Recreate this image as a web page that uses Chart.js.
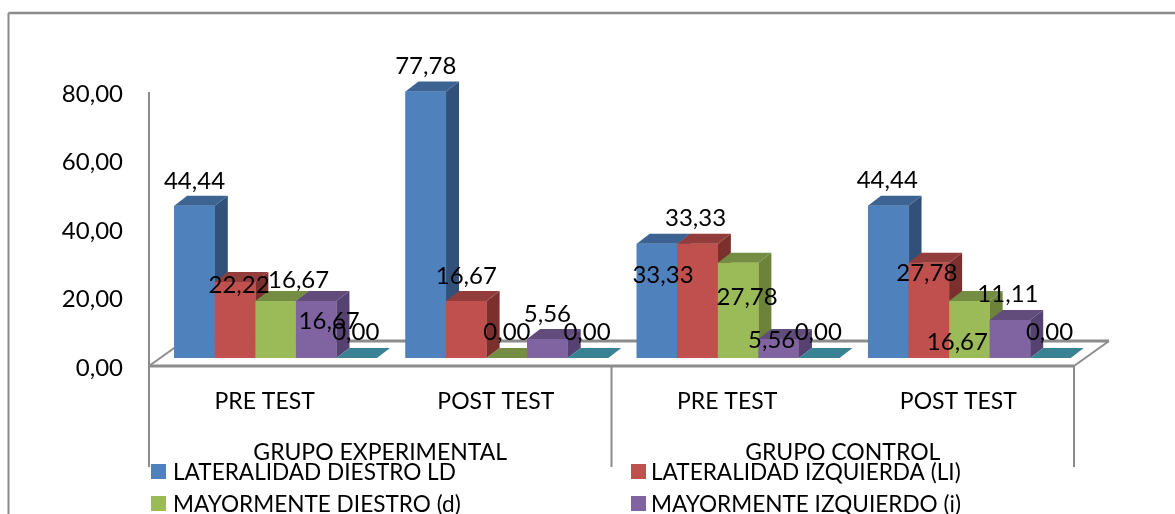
<!DOCTYPE html>
<html>
<head>
<meta charset="utf-8">
<style>
    html, body { margin: 0; padding: 0; background: #fff; overflow: hidden; }
    #wrap { width: 1175px; height: 514px; }
</style>
<script src="https://cdn.jsdelivr.net/npm/chart.js@4"></script>
</head>
<body>
<div id="wrap"><canvas id="chart1" width="1175" height="514"></canvas></div>
<script>
/** Datos */
const categories = ['PRE TEST', 'POST TEST', 'PRE TEST', 'POST TEST'];
const groups = ['GRUPO EXPERIMENTAL', 'GRUPO CONTROL'];
const seriesNames = [
    'LATERALIDAD DIESTRO LD',
    'LATERALIDAD IZQUIERDA (LI)',
    'MAYORMENTE DIESTRO (d)',
    'MAYORMENTE IZQUIERDO (i)',
    ''
];
const diestro = [44.44, 77.78, 33.33, 44.44];
const izquierda = [22.22, 16.67, 33.33, 27.78];
const mayDiestro = [16.67, 0, 27.78, 16.67];
const mayIzquierdo = [16.67, 5.56, 5.56, 11.11];
const quinta = [0, 0, 0, 0];
const yTicks = [0, 20, 40, 60, 80];

/** Colores: frente, lado, tapa */
const front = ['#4F81BD', '#C0504D', '#9BBB59', '#8064A2', '#4BACC6'];
const side = ['#31517A', '#7B302E', '#6C8339', '#564270', '#2F7486'];
const top3d = ['#3C6391', '#923D3B', '#748D43', '#614C7B', '#388294'];

/** Ajustes de etiquetas respecto al centro superior de cada barra */
const labelNudge = [
    [[0, -27], [0, -27], [6, 29], [-1, -28]],
    [[4, 1], [0, -27], [-2, -28], [-2, 8]],
    [[23, -23], [0, -28], [9, 32], [-12, 39]],
    [[13, 18], [0, -27], [-7, -1], [-2, -28]],
    [[-1, -28], [-1, -28], [-1, -28], [-1, -28]]
];

const FONT = 'Lato';
const NUM_SIZE = 24;
const CAT_SIZE = 23;
const LEGEND_SIZE = 22.6;
const TEXT_DROP = 2;                  // Lato queda algo alta con baseline middle
const DEPTH_X = 13, DEPTH_Y = 10;     // profundidad de las barras
const AXIS_DX = -11, AXIS_DY = 8;     // el eje frontal va corrido respecto a las barras
const FLOOR_DX = 35, FLOOR_DY = 25;   // profundidad del piso
const LINE = '#8C8C8C';

const fmt = v => Number(v).toFixed(2).replace('.', ',');

function poly(ctx, pts, color) {
    ctx.fillStyle = color;
    ctx.beginPath();
    pts.forEach((p, i) => i ? ctx.lineTo(p[0], p[1]) : ctx.moveTo(p[0], p[1]));
    ctx.closePath();
    ctx.fill();
}

function line(ctx, x1, y1, x2, y2, w) {
    ctx.strokeStyle = LINE;
    ctx.lineWidth = w;
    ctx.beginPath();
    ctx.moveTo(x1, y1);
    ctx.lineTo(x2, y2);
    ctx.stroke();
}

/** Marco, piso y ejes */
const framePlugin = {
    id: 'frame',
    beforeDatasetsDraw(chart) {
        const ctx = chart.ctx;
        const xs = chart.scales.x;
        const ys = chart.scales.y;
        const x0 = xs.left + AXIS_DX;
        const x1 = xs.right + AXIS_DX;
        const yb = ys.getPixelForValue(0) + AXIS_DY;
        const yt = ys.getPixelForValue(80) + AXIS_DY;
        ctx.save();
        line(ctx, 8.5, 13, 1175, 13, 2.5);
        line(ctx, 8.5, 13, 8.5, 514, 2);
        // eje vertical
        line(ctx, x0, yt, x0, yb, 2);
        // piso
        line(ctx, x0, yb, x1, yb, 3);
        line(ctx, x0, yb, x0 + FLOOR_DX, yb - FLOOR_DY, 2);
        line(ctx, x0 + FLOOR_DX, yb - FLOOR_DY, x1 + FLOOR_DX, yb - FLOOR_DY, 3);
        line(ctx, x1 + FLOOR_DX, yb - FLOOR_DY, x1, yb, 2);
        // divisiones de los grupos
        [x0, (x0 + x1) / 2, x1].forEach(x => line(ctx, x, yb, x, 467, 2));
        ctx.restore();
    }
};

/** Caras laterales y tapas; vuelve a pintar el frente en orden para que se tapen bien */
const bars3dPlugin = {
    id: 'bars3d',
    afterDatasetsDraw(chart) {
        const ctx = chart.ctx;
        ctx.save();
        chart.data.datasets.forEach((ds, i) => {
            chart.getDatasetMeta(i).data.forEach(el => {
                const p = el.getProps(['x', 'y', 'base', 'width']);
                const l = p.x - p.width / 2;
                const r = p.x + p.width / 2;
                poly(ctx, [[r, p.y], [r + DEPTH_X, p.y - DEPTH_Y], [r + DEPTH_X, p.base - DEPTH_Y], [r, p.base]], side[i]);
                poly(ctx, [[l, p.y], [l + DEPTH_X, p.y - DEPTH_Y], [r + DEPTH_X, p.y - DEPTH_Y], [r, p.y]], top3d[i]);
                el.draw(ctx);
            });
        });
        ctx.restore();
    }
};

/** Etiquetas de valores y leyenda */
const textPlugin = {
    id: 'texts',
    afterDraw(chart) {
        const ctx = chart.ctx;
        ctx.save();
        ctx.font = `${NUM_SIZE}px ${FONT}`;
        ctx.fillStyle = '#000';
        ctx.textBaseline = 'middle';
        ctx.textAlign = 'center';
        chart.data.datasets.forEach((ds, i) => {
            chart.getDatasetMeta(i).data.forEach((el, j) => {
                const n = labelNudge[i][j];
                ctx.fillText(fmt(ds.data[j]), el.x + n[0], el.y + n[1] + TEXT_DROP);
            });
        });
        ctx.font = `${LEGEND_SIZE}px ${FONT}`;
        ctx.textAlign = 'left';
        const cols = [151, 631];
        const textGap = [22, 20];
        const rows = [464, 496];
        seriesNames.slice(0, 4).forEach((name, i) => {
            const x = cols[i % 2];
            const y = rows[Math.floor(i / 2)];
            ctx.fillStyle = front[i];
            ctx.fillRect(x, y, 15, 15);
            ctx.fillStyle = '#000';
            ctx.fillText(name, x + textGap[i % 2], y + 9);
        });
        ctx.restore();
    }
};

const datasetValues = [diestro, izquierda, mayDiestro, mayIzquierdo, quinta];

new Chart(document.getElementById('chart1').getContext('2d'), {
    type: 'bar',
    data: {
        labels: categories,
        datasets: datasetValues.map((values, i) => ({
            label: seriesNames[i],
            data: values,
            backgroundColor: front[i],
            borderWidth: 0,
            categoryPercentage: 0.877,
            barPercentage: 1
        }))
    },
    options: {
        responsive: false,
        animation: false,
        layout: { padding: { top: 84, right: 90, left: 0, bottom: 0 } },
        plugins: {
            legend: { display: false },
            title: { display: false },
            tooltip: { enabled: false }
        },
        scales: {
            y: {
                min: 0,
                max: 80,
                afterBuildTicks: scale => { scale.ticks = yTicks.map(v => ({ value: v })); },
                afterFit: scale => { scale.width = 160; },
                grid: { display: false, drawTicks: false },
                border: { display: false },
                ticks: {
                    padding: 37,
                    labelOffset: AXIS_DY + TEXT_DROP,
                    color: '#000',
                    font: { family: FONT, size: NUM_SIZE },
                    callback: v => fmt(v)
                }
            },
            x: {
                afterFit: scale => { scale.height = 70; },
                offset: true,
                grid: { display: false, drawTicks: false, offset: true },
                border: { display: false },
                weight: 0,
                ticks: {
                    padding: 30,
                    labelOffset: AXIS_DX,
                    maxRotation: 0,
                    autoSkip: false,
                    color: '#000',
                    font: { family: FONT, size: CAT_SIZE }
                }
            },
            x2: {
                type: 'category',
                position: 'bottom',
                labels: groups,
                display: true,
                offset: true,
                weight: 1,
                afterFit: scale => { scale.height = 86; },
                grid: { display: false, drawTicks: false, offset: true },
                border: { display: false },
                ticks: {
                    padding: 11,
                    labelOffset: AXIS_DX,
                    maxRotation: 0,
                    autoSkip: false,
                    color: '#000',
                    font: { family: FONT, size: CAT_SIZE }
                }
            }
        }
    },
    plugins: [framePlugin, bars3dPlugin, textPlugin]
});
</script>
</body>
</html>
